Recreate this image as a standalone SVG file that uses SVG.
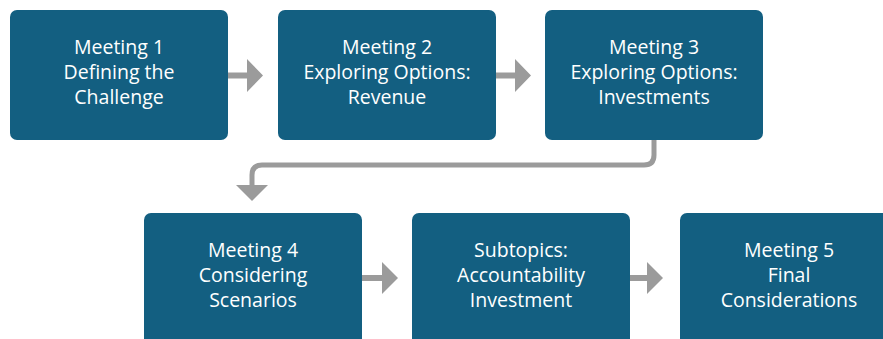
<svg xmlns="http://www.w3.org/2000/svg" width="883" height="339" viewBox="0 0 883 339">
<style>
.box{fill:#135f81}
.t{font-family:"Open Sans","Noto Sans",sans-serif;font-size:19.5px;fill:#ffffff;text-anchor:middle}
.arr{fill:#9b9b9b}
.ln{fill:none;stroke:#9b9b9b;stroke-width:5}
</style>
<rect width="883" height="339" fill="#ffffff"/>
<g id="n1"><rect class="box" x="10" y="10" width="218" height="130" rx="7"/>
<text class="t" x="119" y="54">Meeting 1</text><text class="t" x="119" y="79">Defining the</text><text class="t" x="119" y="104">Challenge</text></g>
<g id="n2"><rect class="box" x="278" y="10" width="218" height="130" rx="7"/>
<text class="t" x="387" y="54">Meeting 2</text><text class="t" x="387" y="79">Exploring Options:</text><text class="t" x="387" y="104">Revenue</text></g>
<g id="n3"><rect class="box" x="545" y="10" width="218" height="130" rx="7"/>
<text class="t" x="654" y="54">Meeting 3</text><text class="t" x="654" y="79">Exploring Options:</text><text class="t" x="654" y="104">Investments</text></g>
<g id="n4"><rect class="box" x="144" y="213" width="218" height="140" rx="7"/>
<text class="t" x="253" y="257">Meeting 4</text><text class="t" x="253" y="282">Considering</text><text class="t" x="253" y="307">Scenarios</text></g>
<g id="n5"><rect class="box" x="412" y="213" width="218" height="140" rx="7"/>
<text class="t" x="521" y="257">Subtopics:</text><text class="t" x="521" y="282">Accountability</text><text class="t" x="521" y="307">Investment</text></g>
<g id="n6"><rect class="box" x="680" y="213" width="218" height="140" rx="7"/>
<text class="t" x="789" y="257">Meeting 5</text><text class="t" x="789" y="282">Final</text><text class="t" x="789" y="307">Considerations</text></g>
<g id="connectors">
<polygon class="arr" points="228,72.5 247,72.5 247,59 263,75.5 247,92 247,78.5 228,78.5"/>
<polygon class="arr" points="496,72.5 515,72.5 515,59 531,75.5 515,92 515,78.5 496,78.5"/>
<path class="ln" d="M654,140 V155 Q654,165 644,165 H262 Q252,165 252,175 V186"/>
<polygon class="arr" points="236,185 268,185 252,201"/>
<polygon class="arr" points="362,275 382,275 382,262 398,278 382,294 382,281 362,281"/>
<polygon class="arr" points="630,275 647,275 647,262 663,278 647,294 647,281 630,281"/>
</g>
</svg>
